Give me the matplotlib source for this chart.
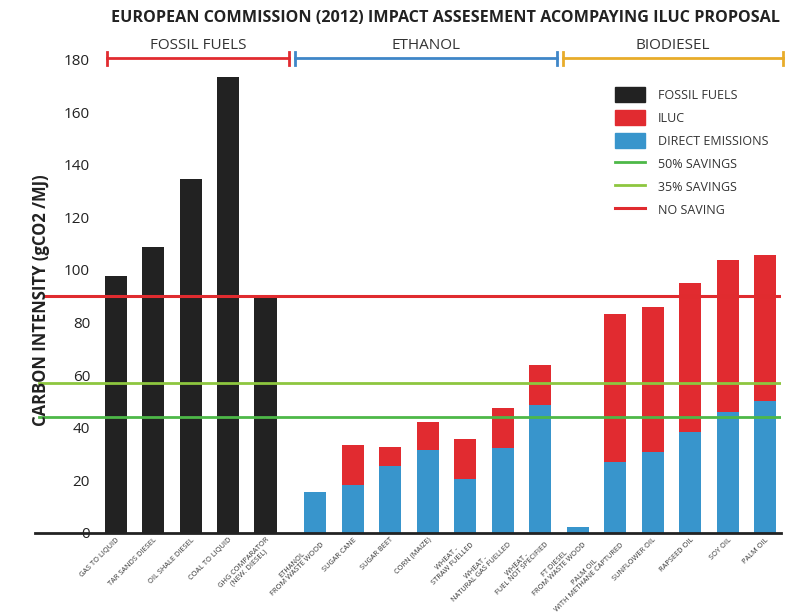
import numpy as np
import matplotlib
matplotlib.use('Agg')
import matplotlib.pyplot as plt
from matplotlib.patches import Patch
from matplotlib.lines import Line2D

plt.rcParams['font.family'] = ['Open Sans', 'DejaVu Sans']

# data (gCO2/MJ)
fossil_names = ['GAS TO LIQUID', 'TAR SANDS DIESEL', 'OIL SHALE DIESEL', 'COAL TO LIQUID',
                'GHG COMPARATOR\n(NEW. DIESEL)']
fossil_vals = [97.7, 108.7, 134.6, 173.4, 89.4]

bio_names = ['ETHANOL\nFROM WASTE WOOD', 'SUGAR CANE', 'SUGAR BEET', 'CORN (MAIZE)',
             'WHEAT -\nSTRAW FUELLED', 'WHEAT -\nNATURAL GAS FUELLED', 'WHEAT -\nFUEL NOT SPECIFIED',
             'FT DIESEL\nFROM WASTE WOOD', 'PALM OIL\nWITH METHANE CAPTURED', 'SUNFLOWER OIL',
             'RAPSEED OIL', 'SOY OIL', 'PALM OIL']
direct = [15.6, 18.3, 25.5, 31.6, 20.5, 32.4, 48.7, 2.3, 27.1, 30.8, 38.4, 46.0, 50.2]
iluc = [0.0, 15.2, 7.2, 10.6, 15.2, 15.1, 15.2, 0.0, 56.2, 55.1, 56.7, 57.8, 55.5]

no_saving = 90.0
saving35 = 57.0
saving50 = 44.0

groups = ['FOSSIL FUELS', 'ETHANOL', 'BIODIESEL']
group_span = [(-0.23, 4.63), (4.79, 11.77), (11.93, 17.8)]
group_col = ['#e12b30', '#3f86c8', '#e8ac2a']

yticks = [0, 20, 40, 60, 80, 100, 120, 140, 160, 180]

c_black = '#222222'
c_iluc = '#e12b30'
c_direct = '#3895cc'

fig = plt.figure(figsize=(7.92, 6.14), dpi=100)
ax = fig.add_axes([0.0442, 0.132, 0.9418, 0.8137])

x_fos = np.arange(len(fossil_vals))
x_bio = np.arange(len(direct)) + 5.33
w = 0.59

ax.bar(x_fos, fossil_vals, w, color=c_black, zorder=2)
ax.bar(x_bio, direct, w, color=c_direct, zorder=2)
ax.bar(x_bio, iluc, w, bottom=direct, color=c_iluc, zorder=2)

ax.axhline(no_saving, xmin=0.012, color='#e02b2f', lw=2.2, zorder=3)
ax.axhline(saving35, xmin=0.006, color='#8dc63f', lw=2, zorder=3)
ax.axhline(saving50, xmin=0.006, color='#4db848', lw=2, zorder=3)

ax.set_xlim(-2.15, 17.75)
ax.set_ylim(0, 190)

for s in ['top', 'right', 'left']:
    ax.spines[s].set_visible(False)
ax.spines['bottom'].set_linewidth(2)
ax.spines['bottom'].set_color(c_black)

ax.set_yticks(yticks)
ax.set_yticklabels([str(v) for v in yticks], fontsize=11, color='#222222')
ax.tick_params(axis='y', length=0, pad=-39.6)

ax.set_xticks(list(x_fos) + list(x_bio))
ax.set_xticklabels(fossil_names + bio_names, rotation=45, ha='right', va='top',
                   rotation_mode='anchor', fontsize=5.3, color='#333333',
                   multialignment='center', linespacing=1.0)
ax.tick_params(axis='x', length=0, pad=2.5)

ax.text(-1.98, 88.6, 'CARBON INTENSITY (gCO2 /MJ)', rotation=90, ha='center', va='center',
        fontsize=12, fontweight='bold', color='#222222')

# group brackets
for name, (a, b), col in zip(groups, group_span, group_col):
    ax.plot([a, b], [180.5, 180.5], color=col, lw=2, clip_on=False)
    ax.plot([a, a], [178, 183], color=col, lw=2, clip_on=False)
    ax.plot([b, b], [178, 183], color=col, lw=2, clip_on=False)
    ax.text((a + b) / 2, 185.5, name, ha='center', va='center', fontsize=11, color='#333333')

fig.text(0.563, 0.9707, 'EUROPEAN COMMISSION (2012) IMPACT ASSESEMENT ACOMPAYING ILUC PROPOSAL',
         ha='center', va='center', fontsize=11.6, fontweight='bold', color='#222222')

handles = [Patch(color=c_black), Patch(color=c_iluc), Patch(color=c_direct),
           Line2D([], [], color='#4db848', lw=2), Line2D([], [], color='#8dc63f', lw=2),
           Line2D([], [], color='#e02b2f', lw=2.2)]
labels = ['FOSSIL FUELS', 'ILUC', 'DIRECT EMISSIONS', '50% SAVINGS', '35% SAVINGS', 'NO SAVING']
ax.legend(handles, labels, loc='upper left', bbox_to_anchor=(0.777, 0.858),
          bbox_transform=fig.transFigure, frameon=False, fontsize=9,
          handlelength=2.4, handleheight=1.45, labelspacing=0.66, handletextpad=1.0,
          borderaxespad=0, borderpad=0, labelcolor='#333333')

fig.savefig('out.png', dpi=100)
